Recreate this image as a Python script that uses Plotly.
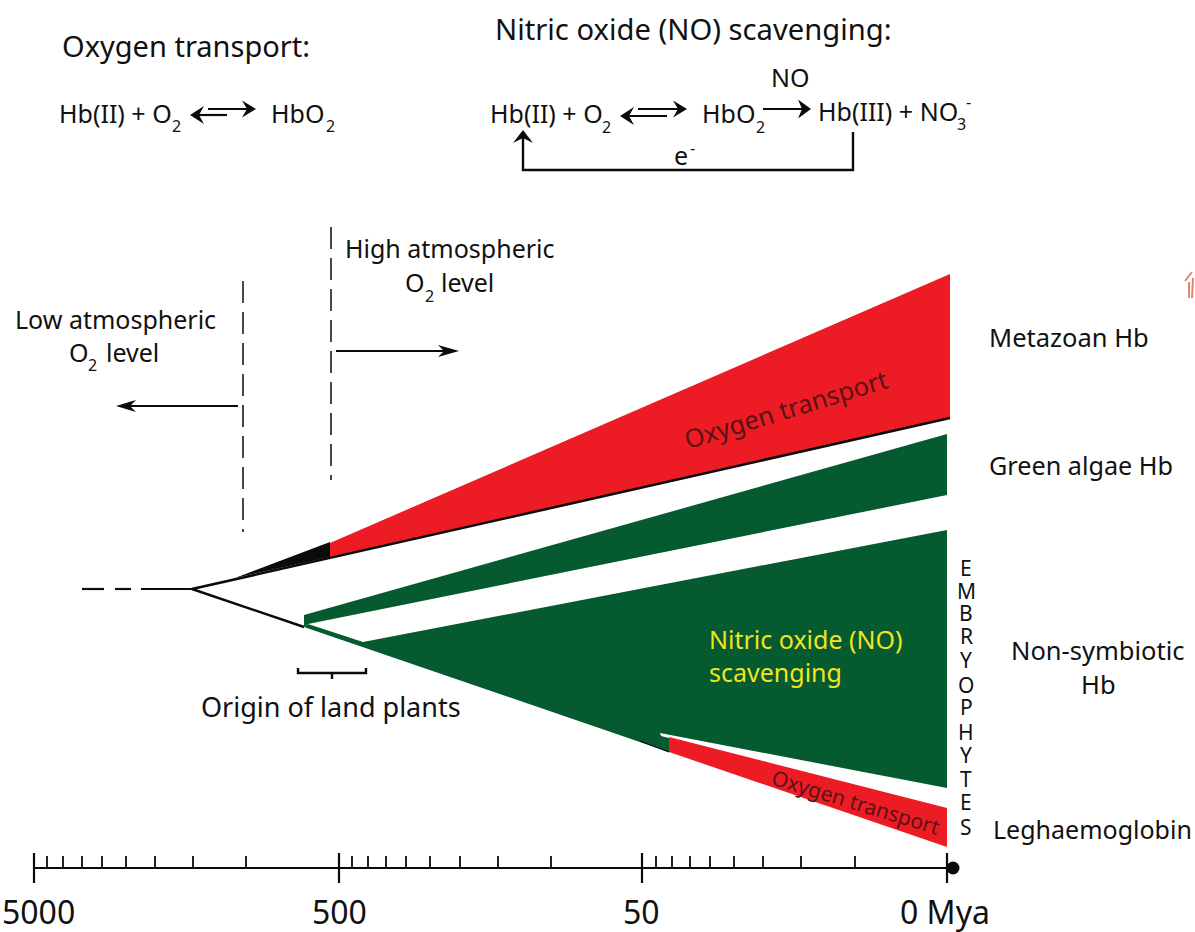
import plotly.graph_objects as go

# ---- Time axis (picture positions of the log-style ruler) ----
axis_y = 868
major_ticks = [34, 339, 642, 947]
minor_ticks = [47, 63, 82, 102, 126, 155, 193, 246,
               352, 368, 386, 406, 430, 460, 498, 551,
               656, 672, 690, 710, 734, 763, 801, 855]
tick_labels = ["5000", "500", "50", "0 Mya"]
tick_label_x = [38, 339, 641, 945]

# ---- Lineage wedges ----
metazoan_x = [330, 950, 950, 330]
metazoan_y = [543, 274, 418, 557]
stem_x = [235, 330, 330]
stem_y = [578, 542, 557]
algae_x = [304, 947, 947, 308, 304]
algae_y = [615, 434, 495, 624, 627]
nonsym_x = [304, 308, 363, 947, 947, 660, 661, 669, 669]
nonsym_y = [627, 624, 642, 530, 788, 733, 736, 738, 752]
leg_x = [669, 947, 947, 669]
leg_y = [737, 808, 847, 752]

# ---- Lines ----
upper_branch_x = [192, 950]
upper_branch_y = [589, 418]
lower_branch_x = [192, 304]
lower_branch_y = [589, 627]
leg_edge_x = [640, 669]
leg_edge_y = [741, 752]
dash_x = [82, 104, None, 115, 131, None, 141, 192]
dash_y = [589, 589, None, 589, 589, None, 589, 589]
low_o2_x = 243
low_o2_y = [281, 532]
high_o2_x = 331
high_o2_y = [227, 480]
bracket_x = [298, 298, 366, 366, None, 332, 332]
bracket_y = [668, 673, 673, 668, None, 673, 679]
feedback_x = [853, 853, 523, 523]
feedback_y = [132, 170, 170, 138]
fragment_x = [1185, 1192, None, 1189, 1189, None, 1193, 1192]
fragment_y = [281, 272, None, 282, 298, None, 278, 298]

# ---- Arrows: start x, y, tip x, y, head length, half width, notch ----
arrows = [
    (238, 406, 116, 406, 20, 6, 14),
    (336, 351, 459, 351, 21, 6, 15),
    (208, 109, 256, 109, 14, 8.5, 9),
    (227, 115, 190, 115, 14, 9, 9),
    (638, 109, 687, 109, 14, 8.5, 9),
    (667, 116, 620, 116, 14, 9, 9),
    (763, 109, 811, 109, 13, 9.5, 9),
]

# ---- Text: string, x, y, anchor, size, angle, colour ----
INK = "#111111"
DARKRED = "#5a1217"
YELLOW = "#f2e41f"
texts = [
    ("Oxygen transport:", 62, 47, "left", 29, 0, INK),
    ("Nitric oxide (NO) scavenging:", 495, 30, "left", 29.2, 0, INK),
    ("Hb(II) + O", 59, 114, "left", 25, 0, INK),
    ("2", 176, 127, "center", 16, 0, INK),
    ("HbO", 271, 114, "left", 25, 0, INK),
    ("2", 330, 127, "center", 16, 0, INK),
    ("Hb(II) + O", 490, 114, "left", 25, 0, INK),
    ("2", 606, 128, "center", 16, 0, INK),
    ("HbO", 702, 114, "left", 25, 0, INK),
    ("2", 760, 128, "center", 16, 0, INK),
    ("NO", 790, 78, "center", 25, 0, INK),
    ("Hb(III) + NO", 818, 112, "left", 25, 0, INK),
    ("3", 961, 125, "center", 16, 0, INK),
    ("-", 968, 103, "center", 16, 0, INK),
    ("e", 681, 156, "center", 25, 0, INK),
    ("-", 692, 149, "center", 16, 0, INK),
    ("High atmospheric", 450, 249, "center", 25, 0, INK),
    ("O", 415, 283, "center", 25, 0, INK),
    ("2", 429, 297, "center", 16, 0, INK),
    ("level", 467, 283, "center", 25, 0, INK),
    ("Low atmospheric", 115, 320, "center", 25, 0, INK),
    ("O", 79, 353, "center", 25, 0, INK),
    ("2", 92, 366, "center", 16, 0, INK),
    ("level", 132, 353, "center", 25, 0, INK),
    ("Metazoan Hb", 989, 338, "left", 25.5, 0, INK),
    ("Green algae Hb", 989, 466, "left", 25.2, 0, INK),
    ("Non-symbiotic", 1098, 651, "center", 25.5, 0, INK),
    ("Hb", 1098, 685, "center", 25.5, 0, INK),
    ("Leghaemoglobin", 993, 830, "left", 25, 0, INK),
    ("Origin of land plants", 331, 708, "center", 27, 0, INK),
    ("Oxygen transport", 785, 410, "center", 25.5, -17, DARKRED),
    ("Oxygen transport", 856, 803, "center", 21, 17, DARKRED),
    ("Nitric oxide (NO)", 709, 640, "left", 25, 0, YELLOW),
    ("scavenging", 709, 673, "left", 25, 0, YELLOW),
]
embryo_letters = list("EMBRYOPHYTES")
embryo_y = [568, 591, 613, 636, 660, 685, 707, 732, 755, 779, 802, 827]
embryo_x = 966

RED = "#ed1c24"
GREEN = "#055a30"
BLACK = "#0b0b0b"
FONT = "Noto Sans"

fig = go.Figure()


def poly(x, y, color):
    fig.add_trace(go.Scatter(x=x + x[:1], y=y + y[:1], mode="lines", fill="toself",
                             fillcolor=color, line=dict(color=color, width=0),
                             hoverinfo="skip", showlegend=False))


def line(x, y, width=2.2, color=BLACK, dash=None):
    fig.add_trace(go.Scatter(x=x, y=y, mode="lines",
                             line=dict(color=color, width=width, dash=dash),
                             hoverinfo="skip", showlegend=False))


poly(metazoan_x, metazoan_y, RED)
poly(stem_x, stem_y, BLACK)
poly(algae_x, algae_y, GREEN)
poly(nonsym_x, nonsym_y, GREEN)
poly(leg_x, leg_y, RED)

line(upper_branch_x, upper_branch_y, 2.6)
line(lower_branch_x, lower_branch_y, 2.4)
line(leg_edge_x, leg_edge_y, 1.2)
line(dash_x, dash_y, 2.2)
line([low_o2_x, low_o2_x], low_o2_y, 1.5, dash="22px,9px")
line([high_o2_x, high_o2_x], high_o2_y, 1.5, dash="22px,9px")
line(bracket_x, bracket_y, 2.4)
line(feedback_x, feedback_y, 2.4)
line(fragment_x, fragment_y, 2, "#d98a6a")

# arrows with barbed heads
for x0, y0, x1, y1, hl, hw, nt in arrows:
    d = 1 if x1 > x0 else -1
    line([x0, x1 - d * nt], [y0, y1], 2.2)
    poly([x1, x1 - d * hl, x1 - d * nt, x1 - d * hl], [y1, y1 - hw, y1, y1 + hw], BLACK)
poly([523, 513, 523, 533], [130, 143, 138, 143], BLACK)

# ruler
line([34, 947], [axis_y, axis_y], 2.2)
mx, my = [], []
for t in major_ticks:
    mx += [t, t, None]
    my += [853, 883, None]
line(mx, my, 2.2)
nx, ny = [], []
for t in minor_ticks:
    nx += [t, t, None]
    ny += [856, axis_y, None]
line(nx, ny, 1.8)
fig.add_trace(go.Scatter(x=[953], y=[axis_y], mode="markers",
                         marker=dict(color=BLACK, size=13), hoverinfo="skip", showlegend=False))

anns = []
for s, x, y, anchor, size, angle, color in texts:
    anns.append(dict(x=x, y=y, text=s, showarrow=False, xanchor=anchor, yanchor="middle",
                     xshift=-2.5 if anchor == "left" else 0, yshift=1.5,
                     textangle=angle, font=dict(family=FONT, size=size, color=color)))
for ch, y in zip(embryo_letters, embryo_y):
    anns.append(dict(x=embryo_x, y=y, text=ch, showarrow=False, xanchor="center", yanchor="middle",
                     font=dict(family=FONT, size=21, color=INK)))
for s, x in zip(tick_labels, tick_label_x):
    anns.append(dict(x=x, y=912, text=s, showarrow=False, xanchor="center", yanchor="middle",
                     yshift=1, font=dict(family=FONT, size=32, color=INK)))

fig.update_layout(
    width=1195, height=932, margin=dict(l=0, r=0, t=0, b=0),
    paper_bgcolor="white", plot_bgcolor="white", showlegend=False,
    xaxis=dict(range=[0, 1195], visible=False, fixedrange=True),
    yaxis=dict(range=[932, 0], visible=False, fixedrange=True),
    annotations=anns,
)
fig.write_html("out.html", config=dict(displayModeBar=False),
               post_script="document.body.style.margin='0';document.body.style.overflow='hidden';")
